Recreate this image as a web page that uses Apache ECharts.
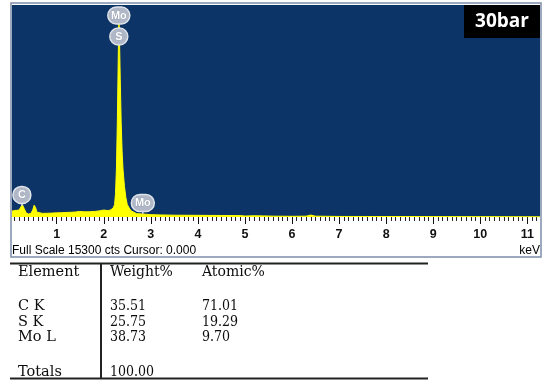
<!DOCTYPE html>
<html>
<head>
<meta charset="utf-8">
<script src="https://cdn.jsdelivr.net/npm/echarts@6/dist/echarts.min.js"></script>
<style>
  html, body { margin: 0; padding: 0; background: #ffffff; }
  #chart { width: 545px; height: 380px; }
</style>
</head>
<body>
<div id="chart"></div>
<script>
// EDS spectrum: photon energy (keV) and detector counts
const energy = [0.05,0.10,0.15,0.20,0.24,0.27,0.29,0.31,0.35,0.40,0.45,0.49,0.52,0.55,0.58,
  0.62,0.70,0.80,0.90,1.00,1.10,1.20,1.30,1.40,1.48,1.52,1.60,1.70,1.80,1.90,
  2.00,2.05,2.10,2.15,2.20,2.23,2.25,2.27,2.29,2.31,2.32,2.33,2.35,2.37,2.39,
  2.41,2.44,2.47,2.50,2.54,2.58,2.62,2.70,2.80,2.90,3.00,3.20,3.50,4.00,4.50,
  4.90,5.00,5.20,5.40,5.60,6.00,6.30,6.40,6.50,7.00,8.00,9.00,10.00,11.27];
const counts = [420,470,480,500,620,900,950,600,300,220,250,500,850,700,350,
  250,260,270,280,300,310,330,340,360,400,390,370,380,400,440,
  500,480,470,520,650,900,1700,3600,7200,12000,14400,13600,10000,6800,4700,
  3400,2200,1400,900,650,450,320,240,225,200,170,150,130,120,110,
  100,70,90,80,60,50,60,140,60,40,35,30,25,20];

// Axis range and tick labels
const energyMin = 0.05;
const energyMax = 11.27;
const fullScale = 15300;
const cursorValue = '0.000';
const majorTicks = [1,2,3,4,5,6,7,8,9,10,11];

// Identified X-ray lines: element, energy, counts where the marker stem meets the spectrum
const lineNames = ['Mo', 'S', 'C', 'Mo'];
const lineEnergy = [2.32, 2.32, 0.26, 2.83];
const lineCounts = [14400, 14400, 800, 220];

// Quantification table
const tableHeader = ['Element', 'Weight%', 'Atomic%'];
const elements = ['C K', 'S K', 'Mo L'];
const weightPct = ['35.51', '25.75', '38.73'];
const atomicPct = ['71.01', '19.29', '9.70'];
const totalLabel = 'Totals';
const totalWeight = '100.00';
const sampleLabel = '30bar';

// ---- layout / style ----
const markerLift = [2, -19, 11, 11];     // marker centre above the stem base, px
const markerWidth = [22, 18, 18, 23];
const markerHeight = 17;

// minor ticks every 0.1 keV between the labelled ones
const minorTicks = [];
for (let k = 1; k <= 112; k++) {
  if (k % 10 !== 0) minorTicks.push(k / 10);
}

const spectrum = energy.map((e, i) => [e, counts[i]]);
const markers = lineEnergy.map((e, i) => [e, lineCounts[i]]);

const serif = "'DejaVu Serif', serif";
const numFont = "'DejaVu Serif Condensed', 'DejaVu Serif', serif";
const txt = '#0d0d0d';

function tableText(x, y, text, font) {
  return { type: 'text', z: 20, style: { x: x, y: y, text: text, font: font, fill: txt, align: 'left', verticalAlign: 'middle' } };
}

const rowsY = [306.5, 322, 337.5];
const table = [
  { type: 'line', z: 20, shape: { x1: 10, y1: 263.5, x2: 428, y2: 263.5 }, style: { stroke: '#222222', lineWidth: 2 } },
  { type: 'line', z: 20, shape: { x1: 10, y1: 378.5, x2: 428, y2: 378.5 }, style: { stroke: '#222222', lineWidth: 2 } },
  { type: 'line', z: 20, shape: { x1: 101, y1: 263.5, x2: 101, y2: 378.5 }, style: { stroke: '#222222', lineWidth: 2 } },
  tableText(18, 272, tableHeader[0], '14.5px ' + serif),
  tableText(110, 272, tableHeader[1], '14px ' + serif),
  tableText(202, 272, tableHeader[2], '14px ' + serif),
  tableText(18, 372.5, totalLabel, '14.5px ' + serif),
  tableText(110, 372.5, totalWeight, '14px ' + numFont)
];
elements.forEach((el, i) => {
  table.push(tableText(18, rowsY[i], el, '14.5px ' + serif));
  table.push(tableText(110, rowsY[i], weightPct[i], '14px ' + numFont));
  table.push(tableText(202, rowsY[i], atomicPct[i], '14px ' + numFont));
});

const chart = echarts.init(document.getElementById('chart'), null, { renderer: 'canvas' });

chart.setOption({
  animation: false,
  backgroundColor: '#ffffff',
  grid: {
    left: 12, right: 5, top: 5, bottom: 163,
    show: true, backgroundColor: '#0c3466', borderWidth: 0
  },
  xAxis: [
    {
      type: 'value', min: energyMin, max: energyMax, position: 'bottom',
      axisLine: { show: false },
      splitLine: { show: false },
      axisTick: { show: true, customValues: majorTicks, length: 7, lineStyle: { color: '#111', width: 1 } },
      axisLabel: {
        customValues: majorTicks, margin: 11, fontSize: 12.5, fontWeight: 'bold',
        color: '#111111', fontFamily: "'Liberation Sans', Arial, sans-serif"
      }
    },
    {
      type: 'value', min: energyMin, max: energyMax, position: 'bottom', offset: 0,
      axisLine: { show: false },
      splitLine: { show: false },
      axisTick: { show: true, customValues: minorTicks, length: 4, lineStyle: { color: '#222', width: 1 } },
      axisLabel: { show: false }
    }
  ],
  yAxis: { type: 'value', min: 0, max: fullScale, show: false },
  series: [
    {
      type: 'line',
      data: spectrum,
      symbol: 'none',
      smooth: false,
      lineStyle: { color: '#ffff00', width: 1 },
      areaStyle: { color: '#ffff00', opacity: 1 },
      z: 2
    },
    {
      type: 'custom',
      data: markers,
      clip: false,
      z: 5,
      renderItem: function (params, api) {
        const i = params.dataIndex;
        const p = api.coord([api.value(0), api.value(1)]);
        const cy = p[1] - markerLift[i];
        const w = markerWidth[i], h = markerHeight;
        const children = [];
        if (markerLift[i] > h / 2) {
          children.push({
            type: 'line',
            shape: { x1: p[0], y1: p[1], x2: p[0], y2: cy + h / 2 },
            style: { stroke: '#d3d9e2', lineWidth: 1.5 }
          });
        }
        children.push({
          type: 'rect',
          shape: { x: p[0] - w / 2, y: cy - h / 2, width: w, height: h, r: h / 2 },
          style: { fill: '#b0b8c7', stroke: '#dfe3ea', lineWidth: 1.5 }
        });
        children.push({
          type: 'text',
          style: {
            x: p[0], y: cy + 0.5, text: lineNames[i], align: 'center', verticalAlign: 'middle',
            font: "bold 11px 'Liberation Sans', Arial, sans-serif", fill: '#ffffff',
            stroke: '#8c96a8', lineWidth: 0.6
          }
        });
        return { type: 'group', children: children };
      }
    }
  ],
  graphic: [
    { type: 'rect', z: 10, shape: { x: 11, y: 3, width: 530, height: 254 }, style: { fill: 'none', stroke: '#7d8dab', lineWidth: 1.5 } },
    { type: 'rect', z: 10, shape: { x: 464, y: 5, width: 76, height: 33 }, style: { fill: '#000000' } },
    { type: 'text', z: 11, style: { x: 502, y: 22, text: sampleLabel, align: 'center', verticalAlign: 'middle', font: "bold 19px 'Open Sans', sans-serif", fill: '#ffffff' } },
    { type: 'text', z: 11, style: { x: 12, y: 251, text: 'Full Scale ' + fullScale + ' cts Cursor: ' + cursorValue, align: 'left', verticalAlign: 'middle', font: "12px 'Liberation Sans', Arial, sans-serif", fill: '#000000' } },
    { type: 'text', z: 11, style: { x: 540, y: 251, text: 'keV', align: 'right', verticalAlign: 'middle', font: "12px 'Liberation Sans', Arial, sans-serif", fill: '#000000' } }
  ].concat(table)
});
</script>
</body>
</html>
